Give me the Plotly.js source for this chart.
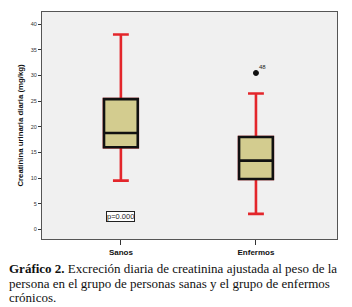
<!DOCTYPE html>
<html>
<head>
<meta charset="utf-8">
<script src="https://cdn.plot.ly/plotly-3.0.1.min.js"></script>
<style>html,body{margin:0;padding:0;background:#fff;}#chart{width:352px;height:307px;}</style>
</head>
<body>
<div id="chart"></div>
<script>
// Data
var categories = ['Sanos', 'Enfermos'];
var lowerWhisker = [9.5, 3.0];
var q1 = [16.0, 9.8];
var median = [18.8, 13.4];
var q3 = [25.4, 18.0];
var upperWhisker = [38.0, 26.5];
var outlierCategory = ['Enfermos'];
var outlierValue = [30.5];
var outlierLabel = ['48'];
var yTicks = [0, 5, 10, 15, 20, 25, 30, 35, 40];
var pLabel = 'p=0.000';
var pY = 2.5;
var captionLines = [
  '<b>Gráfico 2.</b> Excreción diaria de creatinina ajustada al peso de la',
  'persona en el grupo de personas sanas y el grupo de enfermos',
  'crónicos.'
];

var red = '#e3262b';
var traces = [
  {
    type: 'box', x: categories, q1: q1, median: median, q3: q3,
    lowerfence: lowerWhisker, upperfence: upperWhisker,
    boxpoints: false, width: 0.25, whiskerwidth: 0.47,
    line: {color: red, width: 2.6}, fillcolor: '#d3cc8f',
    hoverinfo: 'skip', showlegend: false
  },
  {
    type: 'box', x: categories, q1: q1, median: median, q3: q3,
    lowerfence: q1, upperfence: q3,
    boxpoints: false, width: 0.25, whiskerwidth: 0,
    line: {color: '#111', width: 2.6}, fillcolor: '#d3cc8f',
    hoverinfo: 'skip', showlegend: false
  },
  {
    type: 'scatter', mode: 'markers', x: outlierCategory, y: outlierValue,
    marker: {symbol: 'circle', size: 5, color: '#111', line: {color: '#111', width: 1}},
    showlegend: false, hoverinfo: 'skip'
  }
];

var annotations = [
  {
    x: outlierCategory[0], y: outlierValue[0], xref: 'x', yref: 'y',
    text: outlierLabel[0], showarrow: false, xanchor: 'left', yanchor: 'bottom',
    xshift: 1, yshift: 1, font: {family: 'Liberation Sans, Arial', size: 6, color: '#222'}
  },
  {
    x: categories[0], y: pY, xref: 'x', yref: 'y', text: pLabel, showarrow: false,
    bordercolor: '#222', borderwidth: 1, borderpad: 0, bgcolor: '#fff',
    font: {family: 'Liberation Sans, Arial', size: 7.5, color: '#222'}
  }
];
var capY = [-0.128, -0.194, -0.257];
captionLines.forEach(function (t, i) {
  annotations.push({
    x: -0.118, y: capY[i], xref: 'paper', yref: 'paper', text: t, showarrow: false,
    xanchor: 'left', yanchor: 'middle',
    font: {family: 'Liberation Serif, Times New Roman, serif', size: 13, color: '#111'}
  });
});

var layout = {
  width: 352, height: 307,
  margin: {l: 42, r: 15, t: 12, b: 68},
  paper_bgcolor: '#fff', plot_bgcolor: '#f0f0f0',
  boxmode: 'overlay',
  xaxis: {
    type: 'category', categoryorder: 'array', categoryarray: categories,
    range: [-0.584, 1.6], showgrid: false, zeroline: false,
    showline: true, mirror: true, linecolor: '#555', linewidth: 1,
    ticks: 'outside', ticklen: 5, tickcolor: '#333',
    tickfont: {family: 'Liberation Sans, Arial', size: 8, color: '#111', weight: 'bold'}
  },
  yaxis: {
    range: [-1.9, 42.4], tickvals: yTicks, showgrid: false, zeroline: false,
    showline: true, mirror: true, linecolor: '#555', linewidth: 1,
    ticks: 'outside', ticklen: 3, tickcolor: '#333',
    tickfont: {family: 'Liberation Sans, Arial', size: 5.5, color: '#333'},
    title: {text: 'Creatinina urinaria diaria (mg/kg)', standoff: 6,
      font: {family: 'Liberation Sans, Arial', size: 7.8, color: '#111', weight: 'bold'}}
  },
  annotations: annotations
};

Plotly.newPlot('chart', traces, layout, {staticPlot: true, displayModeBar: false});
</script>
</body>
</html>
